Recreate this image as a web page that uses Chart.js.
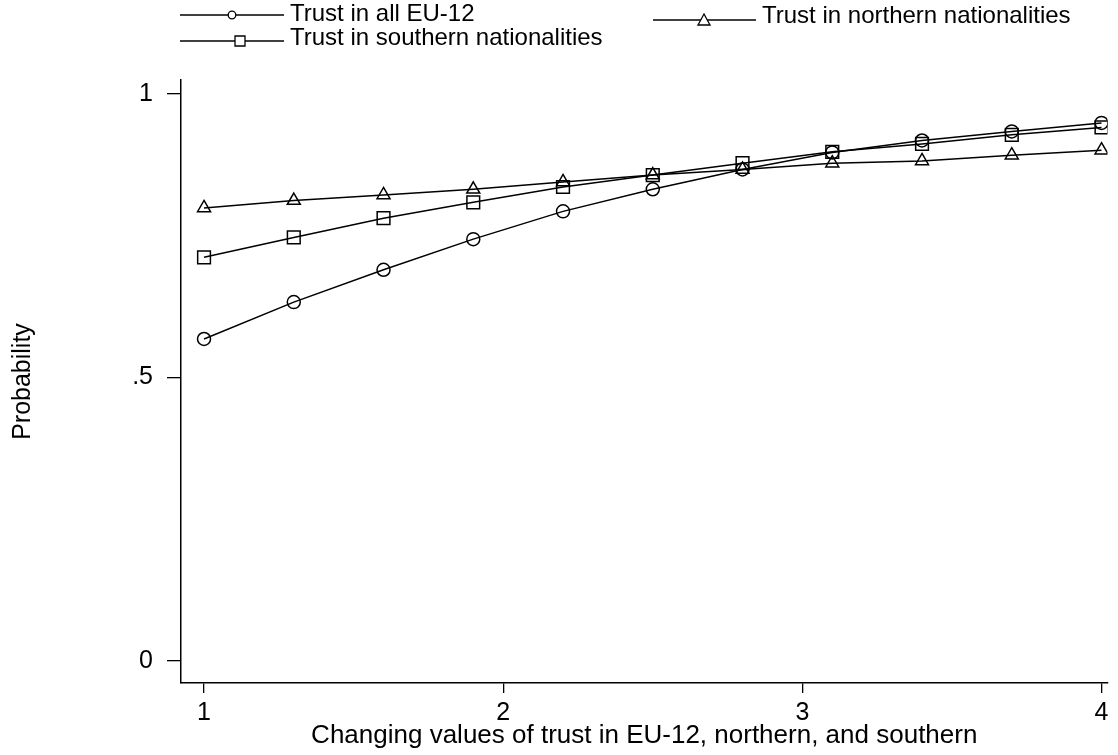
<!DOCTYPE html>
<html>
<head>
<meta charset="utf-8">
<script src="https://cdn.jsdelivr.net/npm/chart.js@4.4.1/dist/chart.umd.min.js"></script>
<style>
  html, body { margin: 0; padding: 0; background: #fff; }
  #wrap { position: relative; width: 1118px; height: 755px; }
</style>
</head>
<body>
<div id="wrap"><canvas id="c" width="1118" height="755"></canvas></div>
<script>
// Trust values on the x axis and predicted probabilities for each series
const trustValues = [1, 1.3, 1.6, 1.9, 2.2, 2.5, 2.8, 3.1, 3.4, 3.7, 4];
const allEU12   = [0.568, 0.633, 0.690, 0.744, 0.793, 0.832, 0.867, 0.897, 0.918, 0.934, 0.949];
const northern  = [0.799, 0.812, 0.822, 0.832, 0.845, 0.857, 0.867, 0.878, 0.882, 0.892, 0.901];
const southern  = [0.712, 0.747, 0.781, 0.809, 0.836, 0.857, 0.878, 0.898, 0.912, 0.928, 0.941];

const seriesNames = ['Trust in all EU-12', 'Trust in northern nationalities', 'Trust in southern nationalities'];
const xTicks = [1, 2, 3, 4];
const yTicks = [0, 0.5, 1];
const yTickLabels = ['0', '.5', '1'];
const xTitle = 'Changing values of trust in EU-12, northern, and southern';
const yTitle = 'Probability';

const FONT = '"Liberation Sans", Arial, Helvetica, sans-serif';

function pts(values) {
  return trustValues.map((x, i) => ({ x: x, y: values[i] }));
}

function lineSet(label, values, style, radius) {
  return {
    label: label,
    data: pts(values),
    borderColor: '#000',
    borderWidth: 1.5,
    pointStyle: style,
    pointRadius: radius,
    pointHoverRadius: radius,
    pointBorderColor: '#000',
    pointBorderWidth: 1.5,
    pointBackgroundColor: 'rgba(0,0,0,0)',
    tension: 0,
    fill: false
  };
}

// Two-column legend with a line sample and a marker on each line
const legendPlugin = {
  id: 'sampleLegend',
  afterDraw(chart) {
    const ctx = chart.ctx;
    const items = [
      { text: seriesNames[0], style: 'circle',   x0: 180, x1: 284, mx: 232, ly: 15, ty: 14 },
      { text: seriesNames[1], style: 'triangle', x0: 653, x1: 756, mx: 704, ly: 20, ty: 16 },
      { text: seriesNames[2], style: 'rect',     x0: 180, x1: 284, mx: 240, ly: 41, ty: 38 }
    ];
    ctx.save();
    ctx.strokeStyle = '#000';
    ctx.lineWidth = 1.3;
    items.forEach(it => {
      ctx.beginPath();
      ctx.moveTo(it.x0, it.ly);
      ctx.lineTo(it.x1, it.ly);
      ctx.stroke();
      ctx.beginPath();
      ctx.fillStyle = '#fff';
      if (it.style === 'circle') {
        ctx.arc(it.mx, it.ly, 3.8, 0, Math.PI * 2);
      } else if (it.style === 'rect') {
        ctx.rect(it.mx - 5, it.ly - 5, 10, 10);
      } else {
        ctx.moveTo(it.mx, it.ly - 6);
        ctx.lineTo(it.mx + 6, it.ly + 5);
        ctx.lineTo(it.mx - 6, it.ly + 5);
        ctx.closePath();
      }
      ctx.fill();
      ctx.stroke();
      ctx.fillStyle = '#000';
      ctx.font = '24px ' + FONT;
      ctx.textBaseline = 'middle';
      ctx.textAlign = 'left';
      ctx.fillText(it.text, it.x1 + 6, it.ty);
    });
    ctx.restore();
  }
};

new Chart(document.getElementById('c'), {
  type: 'line',
  data: {
    datasets: [
      lineSet(seriesNames[0], allEU12, 'circle', 6.5),
      lineSet(seriesNames[1], northern, 'triangle', 7.5),
      lineSet(seriesNames[2], southern, 'rect', 9)
    ]
  },
  options: {
    responsive: false,
    animation: false,
    events: [],
    layout: { padding: { top: 80, right: 8, left: 0, bottom: 0 } },
    plugins: { legend: { display: false }, tooltip: { enabled: false } },
    scales: {
      x: {
        type: 'linear',
        min: 0.923,
        max: 4.02,
        afterBuildTicks(scale) { scale.ticks = xTicks.map(v => ({ value: v })); },
        afterFit(scale) { scale.height = 72; },
        border: { display: true, color: '#000', width: 1.5 },
        grid: { display: true, drawOnChartArea: false, drawTicks: true, tickLength: 10, color: '#000', lineWidth: 1.3 },
        ticks: { color: '#000', padding: 5, maxRotation: 0, font: { family: FONT, size: 25 }, callback: v => String(v) },
        title: { display: true, text: xTitle, color: '#000', padding: { top: 0, bottom: 4 }, font: { family: FONT, size: 26 } }
      },
      y: {
        type: 'linear',
        min: -0.0388,
        max: 1.0247,
        afterBuildTicks(scale) { scale.ticks = yTicks.map(v => ({ value: v })); },
        afterFit(scale) { scale.width = 181; },
        border: { display: true, color: '#000', width: 1.5 },
        grid: { display: true, drawOnChartArea: false, drawTicks: true, tickLength: 14, color: '#000', lineWidth: 1.3 },
        ticks: {
          color: '#000', padding: 14, font: { family: FONT, size: 25 },
          callback: v => { const i = yTicks.indexOf(v); return i >= 0 ? yTickLabels[i] : ''; }
        },
        title: { display: true, text: yTitle, color: '#000', padding: { top: 8, bottom: 0 }, font: { family: FONT, size: 25 } }
      }
    }
  },
  plugins: [legendPlugin]
});
</script>
</body>
</html>
